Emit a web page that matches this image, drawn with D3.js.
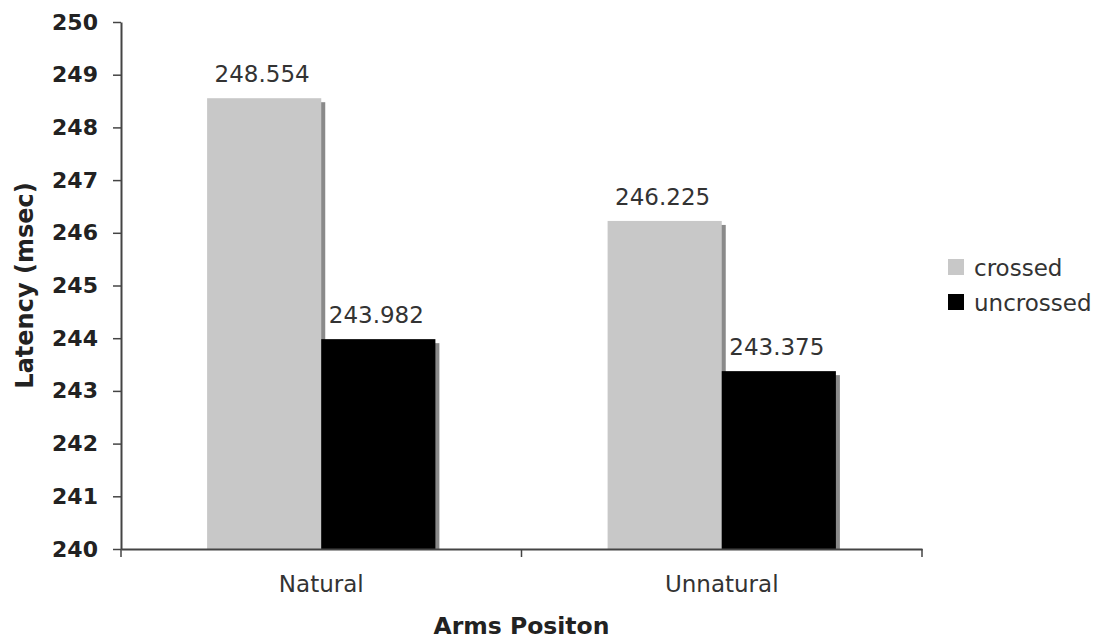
<!DOCTYPE html>
<html><head><meta charset="utf-8">
<script src="https://cdn.jsdelivr.net/npm/d3@7"></script>
<style>body{margin:0;background:#fff}svg{display:block}</style>
</head><body>
<svg id="c" width="1106" height="642"></svg>
<script>
const categories = ["Natural", "Unnatural"];
const seriesNames = ["crossed", "uncrossed"];
const crossed = [248.554, 246.225];
const uncrossed = [243.982, 243.375];
const yTicks = [240, 241, 242, 243, 244, 245, 246, 247, 248, 249, 250];
const colors = ["#c8c8c8", "#000000"];

const svg = d3.select("#c");
const m = {l: 121, r: 922, t: 22, b: 549};
const x = d3.scaleBand().domain(categories).range([m.l, m.r]).paddingInner(0.43).paddingOuter(0.215);
const x1 = d3.scaleBand().domain(seriesNames).range([0, x.bandwidth()]);
const y = d3.scaleLinear().domain([240, 250]).range([m.b, m.t]);
const font = "DejaVu Sans, Verdana, sans-serif";

const data = categories.map((c, i) => ({cat: c, vals: [{s: "crossed", v: crossed[i]}, {s: "uncrossed", v: uncrossed[i]}]}));

const g = svg.selectAll("g.grp").data(data).join("g").attr("transform", d => `translate(${x(d.cat)},0)`);
// shadows
g.selectAll("rect.sh").data(d => d.vals).join("rect")
  .attr("x", d => x1(d.s) + 4).attr("y", d => y(d.v) + 4)
  .attr("width", x1.bandwidth()).attr("height", d => y(240) - y(d.v) - 4)
  .attr("fill", "#8a8a8a");
g.selectAll("rect.b").data(d => d.vals).join("rect")
  .attr("x", d => x1(d.s)).attr("y", d => y(d.v))
  .attr("width", x1.bandwidth()).attr("height", d => y(240) - y(d.v))
  .attr("fill", (d, i) => colors[i]);
g.selectAll("text.v").data(d => d.vals).join("text")
  .attr("x", d => x1(d.s) + x1.bandwidth() / 2 - 2).attr("y", d => y(d.v) - 16)
  .attr("text-anchor", "middle").attr("font-family", font).attr("font-size", 23)
  .attr("fill", "#333").text(d => d.v.toFixed(3));

// axes
const ya = svg.append("g").attr("transform", `translate(${m.l},0)`)
  .call(d3.axisLeft(y).tickValues(yTicks).tickSize(8).tickSizeOuter(0).tickPadding(15).tickFormat(d3.format("d")));
ya.select(".domain").attr("stroke", "#444").attr("stroke-width", 2);
ya.selectAll(".tick line").attr("stroke", "#444").attr("stroke-width", 1.5);
ya.selectAll("text").attr("font-family", font).attr("font-weight", "bold").attr("font-size", 22).attr("fill", "#222");

const xa = svg.append("g").attr("transform", `translate(0,${m.b})`)
  .call(d3.axisBottom(x).tickSize(0).tickPadding(27));
xa.select(".domain").attr("stroke", "#444").attr("stroke-width", 2);
xa.selectAll("text").attr("font-family", font).attr("font-size", 23).attr("fill", "#333");
const bTicks = [m.l, (m.l + m.r) / 2, m.r];
xa.selectAll("line.bt").data(bTicks).join("line").attr("class", "bt")
  .attr("x1", d => d).attr("x2", d => d).attr("y1", 0).attr("y2", 8)
  .attr("stroke", "#444").attr("stroke-width", 1.5);

svg.append("text").attr("transform", `translate(33,${(m.t + m.b) / 2}) rotate(-90)`)
  .attr("text-anchor", "middle").attr("font-family", font).attr("font-weight", "bold")
  .attr("font-size", 24).attr("fill", "#222").text("Latency (msec)");
svg.append("text").attr("x", (m.l + m.r) / 2).attr("y", 634)
  .attr("text-anchor", "middle").attr("font-family", font).attr("font-weight", "bold")
  .attr("font-size", 23.5).attr("fill", "#222").text("Arms Positon");

// legend
const lg = svg.append("g").attr("transform", "translate(948,259)");
const li = lg.selectAll("g").data(seriesNames).join("g").attr("transform", (d, i) => `translate(0,${i * 35})`);
li.append("rect").attr("width", 16).attr("height", 16).attr("fill", (d, i) => colors[i]);
li.append("text").attr("x", 26).attr("y", 17).attr("font-family", font).attr("font-size", 23)
  .attr("fill", "#333").text(d => d);
</script>
</body></html>
